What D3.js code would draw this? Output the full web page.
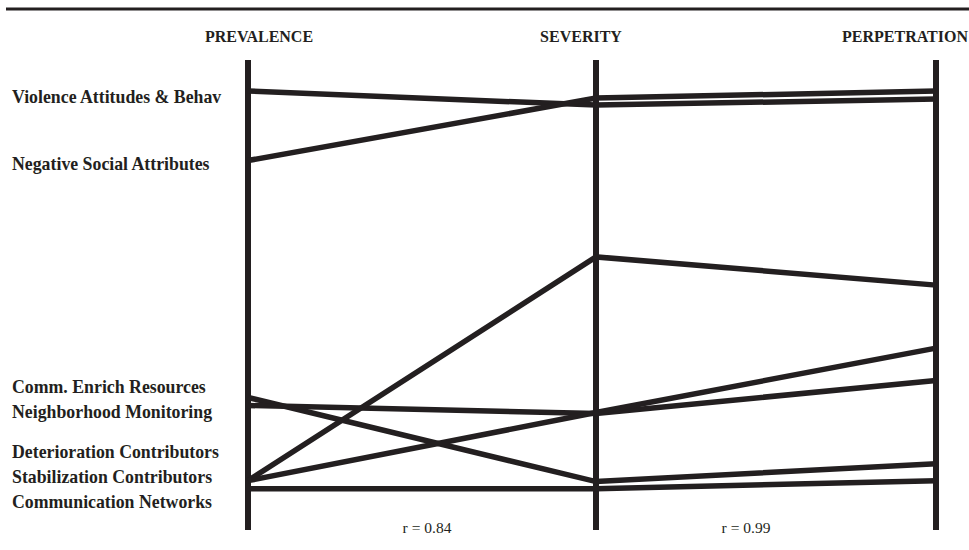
<!DOCTYPE html>
<html lang="en">
<head>
    <meta charset="UTF-8">
    <title>Prevalence, Severity, Perpetration</title>
    <script src="https://cdnjs.cloudflare.com/ajax/libs/d3/7.8.5/d3.min.js"></script>
    <style>
        body {
            margin: 0;
            background: #fff;
        }
        svg {
            display: block;
        }
        .head {
            font-family: "Liberation Serif", "Times New Roman", serif;
            font-weight: bold;
            font-size: 16px;
            fill: #231f20;
        }
        .lab {
            font-family: "Liberation Serif", "Times New Roman", serif;
            font-weight: bold;
            font-size: 17.8px;
            fill: #231f20;
        }
        .corr {
            font-family: "Liberation Serif", "Times New Roman", serif;
            font-size: 15.5px;
            fill: #231f20;
        }
    </style>
</head>
<body>
    <svg width="969" height="550"></svg>

    <script>
        // dimensions (axes) and the correlation between neighbouring axes
        const dimensions = ["PREVALENCE", "SEVERITY", "PERPETRATION"];
        const correlations = ["r = 0.84", "r = 0.99"];

        // factor names, one line each
        const factors = [
            "Violence Attitudes & Behav",
            "Negative Social Attributes",
            "Comm. Enrich Resources",
            "Neighborhood Monitoring",
            "Deterioration Contributors",
            "Stabilization Contributors",
            "Communication Networks"
        ];

        // scores on each dimension (0 = bottom of axis, 100 = top)
        const prevalence   = [93.4, 78.6, 28.2, 26.5, 10.5, 10.5, 8.8];
        const severity     = [90.4, 91.9, 10.3, 24.8, 58.1, 25.0, 8.8];
        const perpetration = [91.7, 93.4, 14.1, 31.8, 52.1, 38.7, 10.5];

        const svg = d3.select("svg");
        const ink = "#231f20";

        const x = d3.scalePoint()
            .domain(dimensions)
            .range([248, 936]);

        // severity axis sits a little left of the midpoint
        const axisX = d => d === "SEVERITY" ? 596 : x(d);

        const y = d3.scaleLinear()
            .domain([0, 100])
            .range([530, 60]);

        // top rule
        svg.append("line")
            .attr("x1", 6).attr("x2", 969)
            .attr("y1", 9).attr("y2", 9)
            .attr("stroke", ink)
            .attr("stroke-width", 3);

        // headers
        const headShift = { PREVALENCE: 11, SEVERITY: -15, PERPETRATION: -31 };
        svg.selectAll(".head")
            .data(dimensions)
            .enter()
            .append("text")
            .attr("class", "head")
            .attr("x", d => axisX(d) + headShift[d])
            .attr("y", 42)
            .attr("text-anchor", "middle")
            .text(d => d);

        // vertical axes
        svg.selectAll(".axis")
            .data(dimensions)
            .enter()
            .append("line")
            .attr("class", "axis")
            .attr("x1", d => axisX(d)).attr("x2", d => axisX(d))
            .attr("y1", y(100)).attr("y2", y(0))
            .attr("stroke", ink)
            .attr("stroke-width", 6);

        // one polyline per factor
        const rows = factors.map((f, i) => ({
            name: f,
            vals: [prevalence[i], severity[i], perpetration[i]]
        }));

        const line = d3.line()
            .x((v, j) => axisX(dimensions[j]))
            .y(v => y(v));

        svg.selectAll(".factor")
            .data(rows)
            .enter()
            .append("path")
            .attr("class", "factor")
            .attr("d", d => line(d.vals))
            .attr("fill", "none")
            .attr("stroke", ink)
            .attr("stroke-width", 5.5)
            .attr("stroke-linejoin", "miter");

        // labels on the left: group labels that would collide, spread them 25px apart
        const gap = 25;
        const sorted = rows.map(d => ({ name: d.name, y0: y(d.vals[0]) }))
            .sort((a, b) => a.y0 - b.y0);
        const clusters = [];
        sorted.forEach(d => {
            const last = clusters[clusters.length - 1];
            if (last && d.y0 - last[last.length - 1].y0 < gap) last.push(d);
            else clusters.push([d]);
        });
        const nudge = [6, 3, -2, -6];
        clusters.forEach((c, ci) => {
            const mid = d3.mean(c, d => d.y0);
            c.forEach((d, k) => { d.ly = mid + (k - (c.length - 1) / 2) * gap + nudge[ci]; });
        });

        svg.selectAll(".lab")
            .data(sorted)
            .enter()
            .append("text")
            .attr("class", "lab")
            .attr("x", 12)
            .attr("y", d => d.ly)
            .attr("dy", "0.34em")
            .text(d => d.name);

        // correlation labels between axes
        svg.selectAll(".corr")
            .data(correlations)
            .enter()
            .append("text")
            .attr("class", "corr")
            .attr("x", (d, i) => (axisX(dimensions[i]) + axisX(dimensions[i + 1])) / 2 + (i === 0 ? 5 : -20))
            .attr("y", 533)
            .attr("text-anchor", "middle")
            .text(d => d);
    </script>
</body>
</html>
